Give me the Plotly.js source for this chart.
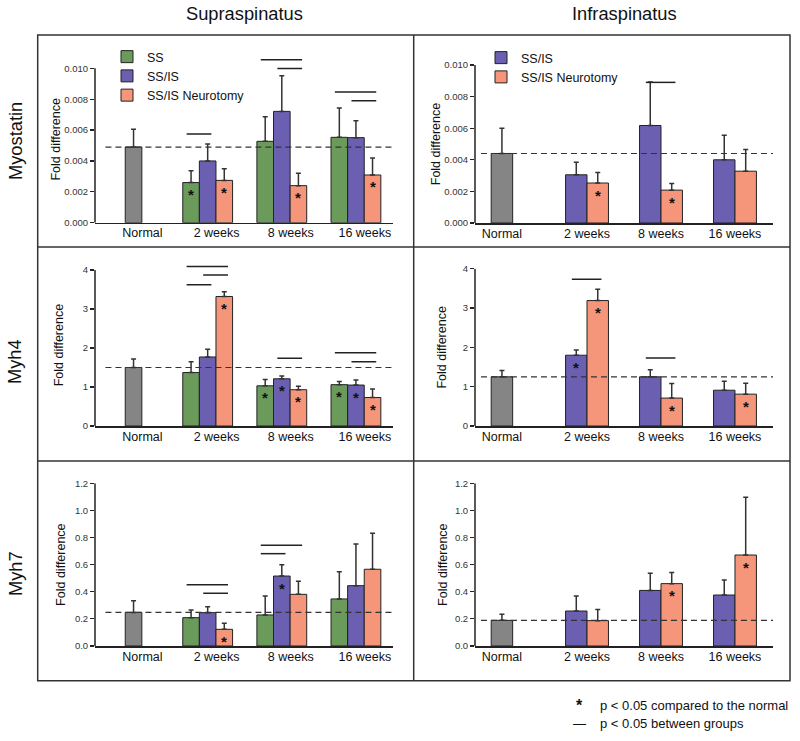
<!DOCTYPE html>
<html><head><meta charset="utf-8">
<script src="https://cdn.plot.ly/plotly-3.0.1.min.js"></script>
<style>html,body{margin:0;padding:0;background:#fff}#chart{width:800px;height:741px}</style>
</head><body><div id="chart"></div>
<script>
// ---------- DATA ----------
const categories = ['Normal', '2 weeks', '8 weeks', '16 weeks'];
const seriesNames = ['SS', 'SS/IS', 'SS/IS Neurotomy'];
const muscles = ['Supraspinatus', 'Infraspinatus'];
const genes = ['Myostatin', 'Myh4', 'Myh7'];

// Supraspinatus – Myostatin
const ssMyoNormal = [0.0049], ssMyoNormalErr = [0.00115];
const ssMyoSS = [0.0026, 0.00527, 0.00553], ssMyoSSErr = [0.00076, 0.0016, 0.0019];
const ssMyoSSIS = [0.0040, 0.00721, 0.00551], ssMyoSSISErr = [0.0011, 0.0023, 0.0011];
const ssMyoNeuro = [0.00274, 0.0024, 0.00309], ssMyoNeuroErr = [0.00076, 0.0008, 0.0011];
const ssMyoStars = [[1, 0, 0], [0, 0, 0], [1, 1, 1]];
const ssMyoSig = [[1, 0, 1, 0.00575], [2, 0, 2, 0.01056], [2, 1, 2, 0.00998], [3, 0, 2, 0.00847], [3, 1, 2, 0.0079]];

// Infraspinatus – Myostatin
const isMyoNormal = [0.0044], isMyoNormalErr = [0.0016];
const isMyoSSIS = [0.00305, 0.00617, 0.0040], isMyoSSISErr = [0.0008, 0.00276, 0.00156];
const isMyoNeuro = [0.00253, 0.00208, 0.00328], isMyoNeuroErr = [0.00067, 0.00042, 0.00137];
const isMyoStars = [[0, 0, 0], [1, 1, 0]];
const isMyoSig = [[2, 1, 2, 0.0089]];

// Supraspinatus – Myh4
const ssMyh4Normal = [1.50], ssMyh4NormalErr = [0.22];
const ssMyh4SS = [1.37, 1.03, 1.06], ssMyh4SSErr = [0.28, 0.16, 0.08];
const ssMyh4SSIS = [1.77, 1.21, 1.05], ssMyh4SSISErr = [0.20, 0.07, 0.13];
const ssMyh4Neuro = [3.32, 0.93, 0.73], ssMyh4NeuroErr = [0.12, 0.09, 0.22];
const ssMyh4Stars = [[0, 1, 1], [0, 1, 1], [1, 1, 1]];
const ssMyh4Sig = [[1, 0, 2, 4.09], [1, 1, 2, 3.87], [1, 0, 1, 3.62], [2, 1, 2, 1.74], [3, 0, 2, 1.88], [3, 1, 2, 1.65]];

// Infraspinatus – Myh4
const isMyh4Normal = [1.25], isMyh4NormalErr = [0.16];
const isMyh4SSIS = [1.80, 1.25, 0.91], isMyh4SSISErr = [0.13, 0.18, 0.23];
const isMyh4Neuro = [3.19, 0.71, 0.81], isMyh4NeuroErr = [0.29, 0.37, 0.28];
const isMyh4Stars = [[1, 0, 0], [1, 1, 1]];
const isMyh4Sig = [[1, 1, 2, 3.73], [2, 1, 2, 1.73]];

// Supraspinatus – Myh7
const ssMyh7Normal = [0.248], ssMyh7NormalErr = [0.086];
const ssMyh7SS = [0.209, 0.229, 0.347], ssMyh7SSErr = [0.057, 0.14, 0.20];
const ssMyh7SSIS = [0.246, 0.516, 0.445], ssMyh7SSISErr = [0.044, 0.084, 0.307];
const ssMyh7Neuro = [0.123, 0.381, 0.566], ssMyh7NeuroErr = [0.044, 0.096, 0.265];
const ssMyh7Stars = [[0, 0, 0], [0, 1, 0], [1, 0, 0]];
const ssMyh7Sig = [[1, 0, 2, 0.452], [1, 1, 2, 0.389], [2, 0, 2, 0.743], [2, 0, 1, 0.681]];

// Infraspinatus – Myh7
const isMyh7Normal = [0.189], isMyh7NormalErr = [0.045];
const isMyh7SSIS = [0.258, 0.41, 0.376], isMyh7SSISErr = [0.111, 0.126, 0.111];
const isMyh7Neuro = [0.187, 0.46, 0.671], isMyh7NeuroErr = [0.083, 0.083, 0.426];
const isMyh7Stars = [[0, 0, 0], [0, 1, 1]];
const isMyh7Sig = [];

const footNotes = ['p < 0.05 compared to the normal', 'p < 0.05 between groups'];

// ---------- STYLE / LAYOUT CONFIG ----------
const W = 800, H = 741;
const FONT = 'Liberation Sans, Arial, Helvetica, sans-serif';
const colors = ['#6b9b5b', '#6a5fb0', '#f5967b'];
const normalColor = '#858585';
const px = v => v / W, py = v => 1 - v / H;

// xd: axis pixel span; zeroPx/topPx: pixel rows of 0 and top tick; tickTop: top tick value; rangeTop: top of range
const panels = [
  {muscle: 0, normal: ssMyoNormal, normalErr: ssMyoNormalErr, groups: [0, 1, 2],
   vals: [ssMyoSS, ssMyoSSIS, ssMyoNeuro], errs: [ssMyoSSErr, ssMyoSSISErr, ssMyoNeuroErr], stars: ssMyoStars, sig: ssMyoSig,
   xd: [95, 393], zeroPx: 222.7, topPx: 68.3, tickTop: 0.010, rangeTop: 0.0108, dtick: 0.002, fmt: '.3f', tstand: 0, legend: 'legend'},
  {muscle: 1, normal: isMyoNormal, normalErr: isMyoNormalErr, groups: [1, 2],
   vals: [isMyoSSIS, isMyoNeuro], errs: [isMyoSSISErr, isMyoNeuroErr], stars: isMyoStars, sig: isMyoSig,
   xd: [475, 773], zeroPx: 223, topPx: 65, tickTop: 0.010, rangeTop: 0.010, dtick: 0.002, fmt: '.3f', tstand: 0, legend: 'legend2'},
  {muscle: 0, normal: ssMyh4Normal, normalErr: ssMyh4NormalErr, groups: [0, 1, 2],
   vals: [ssMyh4SS, ssMyh4SSIS, ssMyh4Neuro], errs: [ssMyh4SSErr, ssMyh4SSISErr, ssMyh4NeuroErr], stars: ssMyh4Stars, sig: ssMyh4Sig,
   xd: [95, 393], zeroPx: 426, topPx: 270, tickTop: 4, rangeTop: 4.15, dtick: 1, fmt: 'd', tstand: 16},
  {muscle: 1, normal: isMyh4Normal, normalErr: isMyh4NormalErr, groups: [1, 2],
   vals: [isMyh4SSIS, isMyh4Neuro], errs: [isMyh4SSISErr, isMyh4NeuroErr], stars: isMyh4Stars, sig: isMyh4Sig,
   xd: [475, 773], zeroPx: 426, topPx: 268.7, tickTop: 4, rangeTop: 4, dtick: 1, fmt: 'd', tstand: 13},
  {muscle: 0, normal: ssMyh7Normal, normalErr: ssMyh7NormalErr, groups: [0, 1, 2],
   vals: [ssMyh7SS, ssMyh7SSIS, ssMyh7Neuro], errs: [ssMyh7SSErr, ssMyh7SSISErr, ssMyh7NeuroErr], stars: ssMyh7Stars, sig: ssMyh7Sig,
   xd: [95, 393], zeroPx: 646, topPx: 483.3, tickTop: 1.2, rangeTop: 1.2, dtick: 0.2, fmt: '.1f', tstand: 6},
  {muscle: 1, normal: isMyh7Normal, normalErr: isMyh7NormalErr, groups: [1, 2],
   vals: [isMyh7SSIS, isMyh7Neuro], errs: [isMyh7SSISErr, isMyh7NeuroErr], stars: isMyh7Stars, sig: isMyh7Sig,
   xd: [475, 773], zeroPx: 646, topPx: 483.3, tickTop: 1.2, rangeTop: 1.2, dtick: 0.2, fmt: '.1f', tstand: 4}
];

// per-muscle geometry (in category units)
const geom = [
  {w: 0.224, normalPos: 0, xr: [-0.52, 3.5], labelShift: 0.12, dashX0: 0.035},
  {w: 0.29, normalPos: -0.15, xr: [-0.514, 3.514], labelShift: 0, dashX0: 0.02}
];

const traces = [];
const annotations = [];
const shapes = [];
const axisLine = {color: '#222', width: 1.5};
const layout = {
  width: W, height: H,
  margin: {l: 0, r: 0, t: 0, b: 0},
  paper_bgcolor: '#fff', plot_bgcolor: 'rgba(0,0,0,0)',
  font: {family: FONT, color: '#111'},
  barmode: 'overlay',
  showlegend: true,
  legend: {x: px(107), y: py(42), xanchor: 'left', yanchor: 'top', bgcolor: 'rgba(0,0,0,0)',
           font: {size: 12.5, family: FONT, color: '#111'}, tracegroupgap: 0},
  legend2: {x: px(481), y: py(43), xanchor: 'left', yanchor: 'top', bgcolor: 'rgba(0,0,0,0)',
            font: {size: 12.5, family: FONT, color: '#111'}, tracegroupgap: 0}
};

panels.forEach((p, i) => {
  const s = i === 0 ? '' : String(i + 1);
  const xa = 'x' + s, ya = 'y' + s;
  const g = geom[p.muscle];
  const nG = p.groups.length;
  const slotOffset = k => (k - nG / 2) * g.w;        // left edge relative to category
  const slotCenter = k => slotOffset(k) + g.w / 2;
  const catPos = [g.normalPos, 1, 2, 3];

  // Normal bar
  traces.push({
    type: 'bar', x: [catPos[0]], y: p.normal, xaxis: xa, yaxis: ya,
    width: g.w, offset: -g.w / 2, name: categories[0], showlegend: false,
    marker: {color: normalColor, line: {color: '#222', width: 1}},
    error_y: {type: 'data', symmetric: false, array: p.normalErr, arrayminus: p.normalErr.map(() => 0),
              color: '#333', thickness: 1.5, width: 2.5}
  });
  // Group bars
  p.groups.forEach((gi, k) => {
    traces.push({
      type: 'bar', x: catPos.slice(1), y: p.vals[k], xaxis: xa, yaxis: ya,
      width: g.w, offset: slotOffset(k), name: seriesNames[gi],
      showlegend: !!p.legend, legend: p.legend || 'legend',
      marker: {color: colors[gi], line: {color: '#222', width: 1}},
      error_y: {type: 'data', symmetric: false, array: p.errs[k], arrayminus: p.errs[k].map(() => 0),
                color: '#333', thickness: 1.5, width: 2.5}
    });
    // asterisks: significant vs normal
    p.stars[k].forEach((flag, j) => {
      if (!flag) return;
      annotations.push({
        xref: xa, yref: ya, x: catPos[j + 1] + slotCenter(k), y: p.vals[k][j],
        text: '<b>*</b>', showarrow: false, yanchor: 'middle', yshift: -12, borderpad: 0,
        font: {size: 15, family: FONT, color: '#111'}
      });
    });
  });
  // significance lines between groups
  if (p.sig.length) {
    const sx = [], sy = [];
    p.sig.forEach(([c, a, b, yv]) => {
      const ka = p.groups.indexOf(a), kb = p.groups.indexOf(b);
      sx.push(catPos[c] + slotCenter(ka) - 0.06, catPos[c] + slotCenter(kb) + 0.05, null);
      sy.push(yv, yv, null);
    });
    traces.push({type: 'scatter', mode: 'lines', x: sx, y: sy, xaxis: xa, yaxis: ya,
                 showlegend: false, cliponaxis: false, hoverinfo: 'skip',
                 line: {color: '#222', width: 1.5}});
  }
  // dashed reference line at the normal level
  shapes.push({type: 'line', xref: xa + ' domain', yref: ya, x0: g.dashX0, x1: 1,
               y0: p.normal[0], y1: p.normal[0], line: {color: '#333', width: 1.2, dash: '6px,4px'}});
  // y axis line: from 0 up to the top tick only
  shapes.push({type: 'line', xref: xa + ' domain', yref: ya, x0: 0, x1: 0,
               y0: 0, y1: p.tickTop, line: axisLine});

  const domTopPx = p.zeroPx - (p.zeroPx - p.topPx) * p.rangeTop / p.tickTop;
  layout['xaxis' + s] = {
    domain: [px(p.xd[0]), px(p.xd[1])], anchor: ya, range: g.xr,
    tickvals: catPos.map(v => v + g.labelShift), ticktext: categories,
    showline: true, linecolor: '#222', linewidth: 1.5, ticks: '', ticklabelstandoff: -2,
    showgrid: false, zeroline: false, fixedrange: true,
    tickfont: {size: 12.5, family: FONT, color: '#111'}
  };
  layout['yaxis' + s] = {
    domain: [py(p.zeroPx), py(domTopPx)], anchor: xa, range: [0, p.rangeTop], dtick: p.dtick, tick0: 0,
    tickformat: p.fmt, showline: false,
    ticks: 'outside', ticklen: 4, tickwidth: 1.2, tickcolor: '#222',
    showgrid: false, zeroline: false, fixedrange: true,
    tickfont: {size: 9.5, family: FONT, color: '#333'},
    title: {text: 'Fold difference', font: {size: 12.5, family: FONT, color: '#111'}, standoff: p.tstand}
  };
});

// panel frame
const frameL = 37.7, frameR = 790, frameT = 35, frameB = 680.7, divX = 413.7, divY = [247, 461];
const frameLine = {color: '#333', width: 1.5};
shapes.push({type: 'rect', xref: 'paper', yref: 'paper', x0: px(frameL), x1: px(frameR), y0: py(frameB), y1: py(frameT), line: frameLine});
shapes.push({type: 'line', xref: 'paper', yref: 'paper', x0: px(divX), x1: px(divX), y0: py(frameB), y1: py(frameT), line: frameLine});
divY.forEach(v => shapes.push({type: 'line', xref: 'paper', yref: 'paper', x0: px(frameL), x1: px(frameR), y0: py(v), y1: py(v), line: frameLine}));

// column titles
[[244, muscles[0]], [624, muscles[1]]].forEach(([x, t]) => annotations.push({
  xref: 'paper', yref: 'paper', x: px(x), y: py(13), text: t, showarrow: false,
  xanchor: 'center', yanchor: 'middle', font: {size: 18.3, family: FONT, color: '#111'}
}));
// row labels
[[141, genes[0]], [362, genes[1]], [574, genes[2]]].forEach(([y, t]) => annotations.push({
  xref: 'paper', yref: 'paper', x: px(15), y: py(y), text: t, showarrow: false, textangle: -90,
  xanchor: 'center', yanchor: 'middle', font: {size: 18.3, family: FONT, color: '#111'}
}));
// footnotes
annotations.push({xref: 'paper', yref: 'paper', x: px(579), y: py(705), text: '<b>*</b>', showarrow: false,
  xanchor: 'center', yanchor: 'middle', font: {size: 16, family: FONT, color: '#111'}});
annotations.push({xref: 'paper', yref: 'paper', x: px(598), y: py(705), text: footNotes[0], showarrow: false,
  xanchor: 'left', yanchor: 'middle', font: {size: 13, family: FONT, color: '#111'}});
annotations.push({xref: 'paper', yref: 'paper', x: px(579), y: py(723), text: '\u2014', showarrow: false,
  xanchor: 'center', yanchor: 'middle', font: {size: 13, family: FONT, color: '#111'}});
annotations.push({xref: 'paper', yref: 'paper', x: px(598), y: py(723), text: footNotes[1], showarrow: false,
  xanchor: 'left', yanchor: 'middle', font: {size: 13, family: FONT, color: '#111'}});

layout.annotations = annotations;
layout.shapes = shapes;

Plotly.newPlot('chart', traces, layout, {displayModeBar: false, staticPlot: true});
</script>
</body></html>
